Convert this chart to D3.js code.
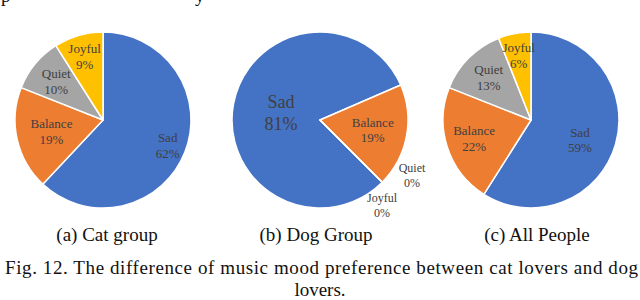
<!DOCTYPE html>
<html>
<head>
<meta charset="utf-8">
<script src="https://cdn.jsdelivr.net/npm/d3@7"></script>
<style>
  body { margin: 0; background: #fff; }
  svg { display: block; font-family: "Liberation Serif", "Times New Roman", serif; }
</style>
</head>
<body>
<div id="chart"></div>
<script>
// data
var MOODS = ["Sad", "Balance", "Quiet", "Joyful"];
var CAT_VALUES = [62, 19, 10, 9];
var DOG_VALUES = [81, 19, 0, 0];
var ALL_VALUES = [59, 22, 13, 6];
var PANEL_TITLES = ["(a) Cat group", "(b) Dog Group", "(c) All People"];
var CAPTION = ["Fig. 12. The difference of music mood preference between cat lovers and dog", "lovers."];
var COLORS = ["#4472C4", "#ED7D31", "#A5A5A5", "#FFC000"];

var WIDTH = 640, HEIGHT = 300, RADIUS = 88, CY = 120;
var deg = Math.PI / 180;

// layout for each panel (label radius as fraction of R, angle shift, font size)
var aPanels = [
  {values: CAT_VALUES, cx: 103, titleX: 107, start: 0,
   labelR: [0.79, 0.6, 0.69, 0.75], shift: [0, 0, 0, 0], font: [13, 13, 13, 13]},
  {values: DOG_VALUES, cx: 320, titleX: 316, start: 135 * deg,
   labelR: [0.45, 0.61, 1.22, 1.2], shift: [0, 0, -14, 9], font: [18, 13, 12, 12]},
  {values: ALL_VALUES, cx: 531, titleX: 537, start: 0,
   labelR: [0.6, 0.68, 0.68, 0.75], shift: [6, 0, 0, 0], font: [13, 13, 13, 13]}
];

var svg = d3.select("#chart").append("svg")
  .attr("width", WIDTH)
  .attr("height", HEIGHT);

// remnants of the previous text line at the very top
svg.append("text").attr("x", 1).attr("y", 2).attr("font-size", 19).attr("fill", "#111").text("p");
svg.append("text").attr("x", 195).attr("y", 2).attr("font-size", 19).attr("fill", "#111").text("y");

var arc = d3.arc().innerRadius(0).outerRadius(RADIUS);

aPanels.forEach(function(p, i) {
  var pie = d3.pie()
    .sort(null)
    .startAngle(p.start)
    .endAngle(p.start + 2 * Math.PI)
    .value(function(d) { return d; });

  var arcs = pie(p.values);

  var g = svg.append("g")
    .attr("transform", "translate(" + p.cx + "," + CY + ")");

  g.selectAll("path.slice")
    .data(arcs)
    .enter().append("path")
    .attr("class", "slice")
    .attr("d", arc)
    .attr("fill", function(d, j) { return COLORS[j]; })
    .attr("stroke", "#fff")
    .attr("stroke-width", 1.5)
    .attr("stroke-linejoin", "round");

  var labels = g.selectAll("g.label")
    .data(arcs)
    .enter().append("g")
    .attr("class", "label")
    .attr("transform", function(d, j) {
      var a = (d.startAngle + d.endAngle) / 2 + p.shift[j] * deg;
      var r = RADIUS * p.labelR[j];
      return "translate(" + (Math.sin(a) * r) + "," + (-Math.cos(a) * r) + ")";
    })
    .attr("text-anchor", "middle")
    .attr("fill", "#404040");

  labels.append("text")
    .attr("y", function(d, j) { return -p.font[j] * 0.6; })
    .attr("dy", "0.35em")
    .attr("font-size", function(d, j) { return p.font[j]; })
    .text(function(d, j) { return MOODS[j]; });

  labels.append("text")
    .attr("y", function(d, j) { return p.font[j] * 0.6; })
    .attr("dy", "0.35em")
    .attr("font-size", function(d, j) { return p.font[j]; })
    .text(function(d) { return d.data + "%"; });

  svg.append("text")
    .attr("x", p.titleX)
    .attr("y", 241)
    .attr("text-anchor", "middle")
    .attr("font-size", 19)
    .attr("fill", "#111")
    .text(PANEL_TITLES[i]);
});

// caption
svg.append("text")
  .attr("x", 5)
  .attr("y", 274)
  .attr("font-size", 19)
  .attr("fill", "#111")
  .attr("textLength", 633)
  .attr("lengthAdjust", "spacing")
  .text(CAPTION[0]);

svg.append("text")
  .attr("x", 320)
  .attr("y", 296)
  .attr("text-anchor", "middle")
  .attr("font-size", 19)
  .attr("fill", "#111")
  .text(CAPTION[1]);
</script>
</body>
</html>
